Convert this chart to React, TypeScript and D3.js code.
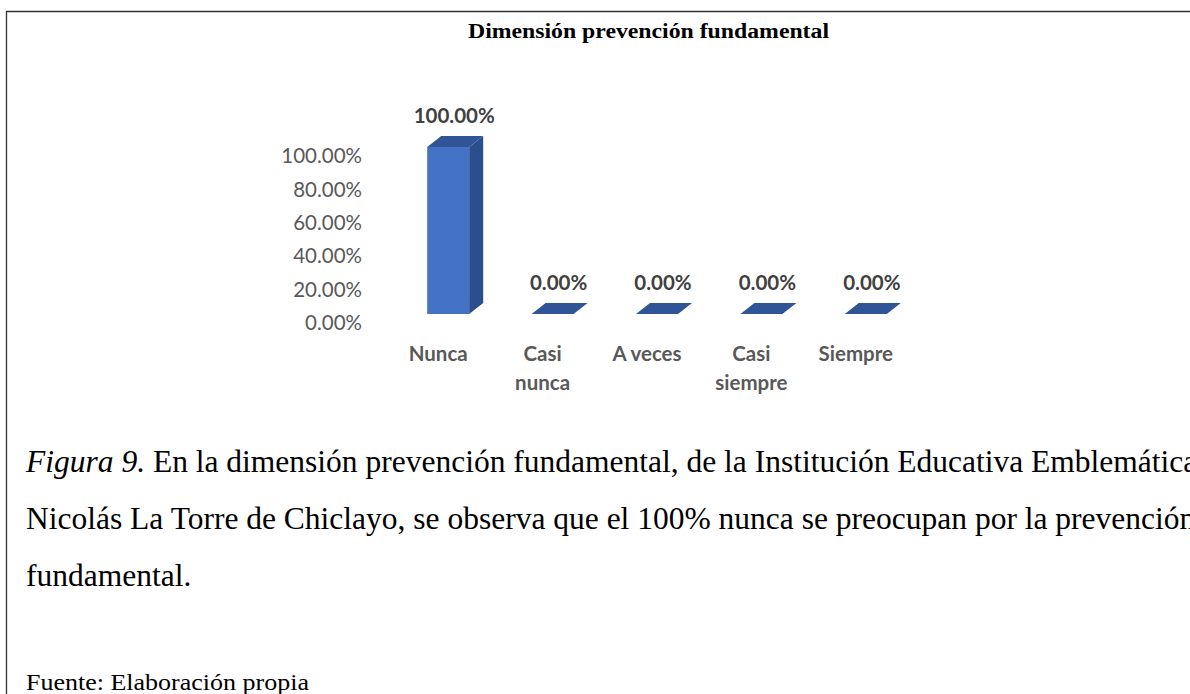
import * as d3 from "d3";

const categories = ["Nunca", "Casi nunca", "A veces", "Casi siempre", "Siempre"];
const categoryLines = [["Nunca"], ["Casi", "nunca"], ["A veces"], ["Casi", "siempre"], ["Siempre"]];
const values = [1, 0, 0, 0, 0];
const yTicks = [0, 0.2, 0.4, 0.6, 0.8, 1];

const title = "Dimensión prevención fundamental";
const captionLines = [
  "En la dimensión prevención fundamental, de la Institución Educativa Emblemática",
  "Nicolás La Torre de Chiclayo, se observa que el 100% nunca se preocupan por la prevención",
  "fundamental.",
];
const source = "Fuente: Elaboración propia";

const W = 1190;
const H = 694;

export default function App() {
  const x = d3.scaleBand<string>().domain(categories).range([386, 908]);
  const y = d3.scaleLinear().domain([0, 1]).range([314, 147]);
  const pct = d3.format(".2%");

  const barW = 42;
  const depthX = 14;
  const depthY = 11;
  const sans = "Lato, 'Open Sans', sans-serif";
  const serif = "'Liberation Serif', 'Times New Roman', serif";

  return (
    <svg
      width={W}
      height={H}
      style={{ position: "absolute", left: 0, top: 0, background: "#fff" }}
    >
      {/* frame */}
      <path d={`M6.5,${H} L6.5,11.5 L${W},11.5`} fill="none" stroke="#333" strokeWidth={1.3} />

      <text
        x={468}
        y={38}
        textLength={361}
        lengthAdjust="spacingAndGlyphs"
        fontFamily={serif}
        fontWeight="bold"
        fontSize={20}
      >
        {title}
      </text>

      {/* y axis labels */}
      {yTicks.map((t) => (
        <text
          key={t}
          x={362}
          y={y(t) + 9}
          dy="0.35em"
          textAnchor="end"
          fontFamily={sans}
          fontSize={20.5}
          fill="#595959"
        >
          {pct(t)}
        </text>
      ))}

      {/* bars */}
      {categories.map((c, i) => {
        const cx = x(c)! + x.bandwidth() / 2;
        const x0 = cx - 11;
        const x1 = x0 + barW;
        const yTop = y(values[i]);
        const yBot = y(0);
        const topFace = `M${x0},${yTop} L${x0 + depthX},${yTop - depthY} L${x1 + depthX},${yTop - depthY} L${x1},${yTop} Z`;
        const side = `M${x1},${yTop} L${x1 + depthX},${yTop - depthY} L${x1 + depthX},${yBot - depthY} L${x1},${yBot} Z`;
        return (
          <g key={c}>
            {values[i] > 0 && (
              <>
                <rect x={x0} y={yTop} width={barW} height={yBot - yTop} fill="#4472C4" />
                <path d={side} fill="#2B4E8C" />
              </>
            )}
            <path d={topFace} fill="#2F5597" />
            <text
              x={x0 + barW / 2 + 6}
              y={yTop - depthY - 13}
              textAnchor="middle"
              fontFamily={sans}
              fontWeight="bold"
              fontSize={20.5}
              fill="#404040"
            >
              {pct(values[i])}
            </text>
            {categoryLines[i].map((ln, j) => (
              <text
                key={ln}
                x={cx}
                y={354 + j * 29}
                dy="0.35em"
                textAnchor="middle"
                fontFamily={sans}
                fontWeight="bold"
                fontSize={20.5}
                fill="#595959"
              >
                {ln}
              </text>
            ))}
          </g>
        );
      })}

      {/* caption */}
      {captionLines.map((ln, i) => (
        <text key={i} x={26} y={472 + i * 57} fontFamily={serif} fontSize={31.5} fill="#000">
          {i === 0 && <tspan fontStyle="italic">Figura 9.</tspan>}
          {i === 0 ? " " + ln : ln}
        </text>
      ))}

      <text
        x={26}
        y={690}
        textLength={283}
        lengthAdjust="spacingAndGlyphs"
        fontFamily={serif}
        fontSize={24}
        fill="#000"
      >
        {source}
      </text>
    </svg>
  );
}
